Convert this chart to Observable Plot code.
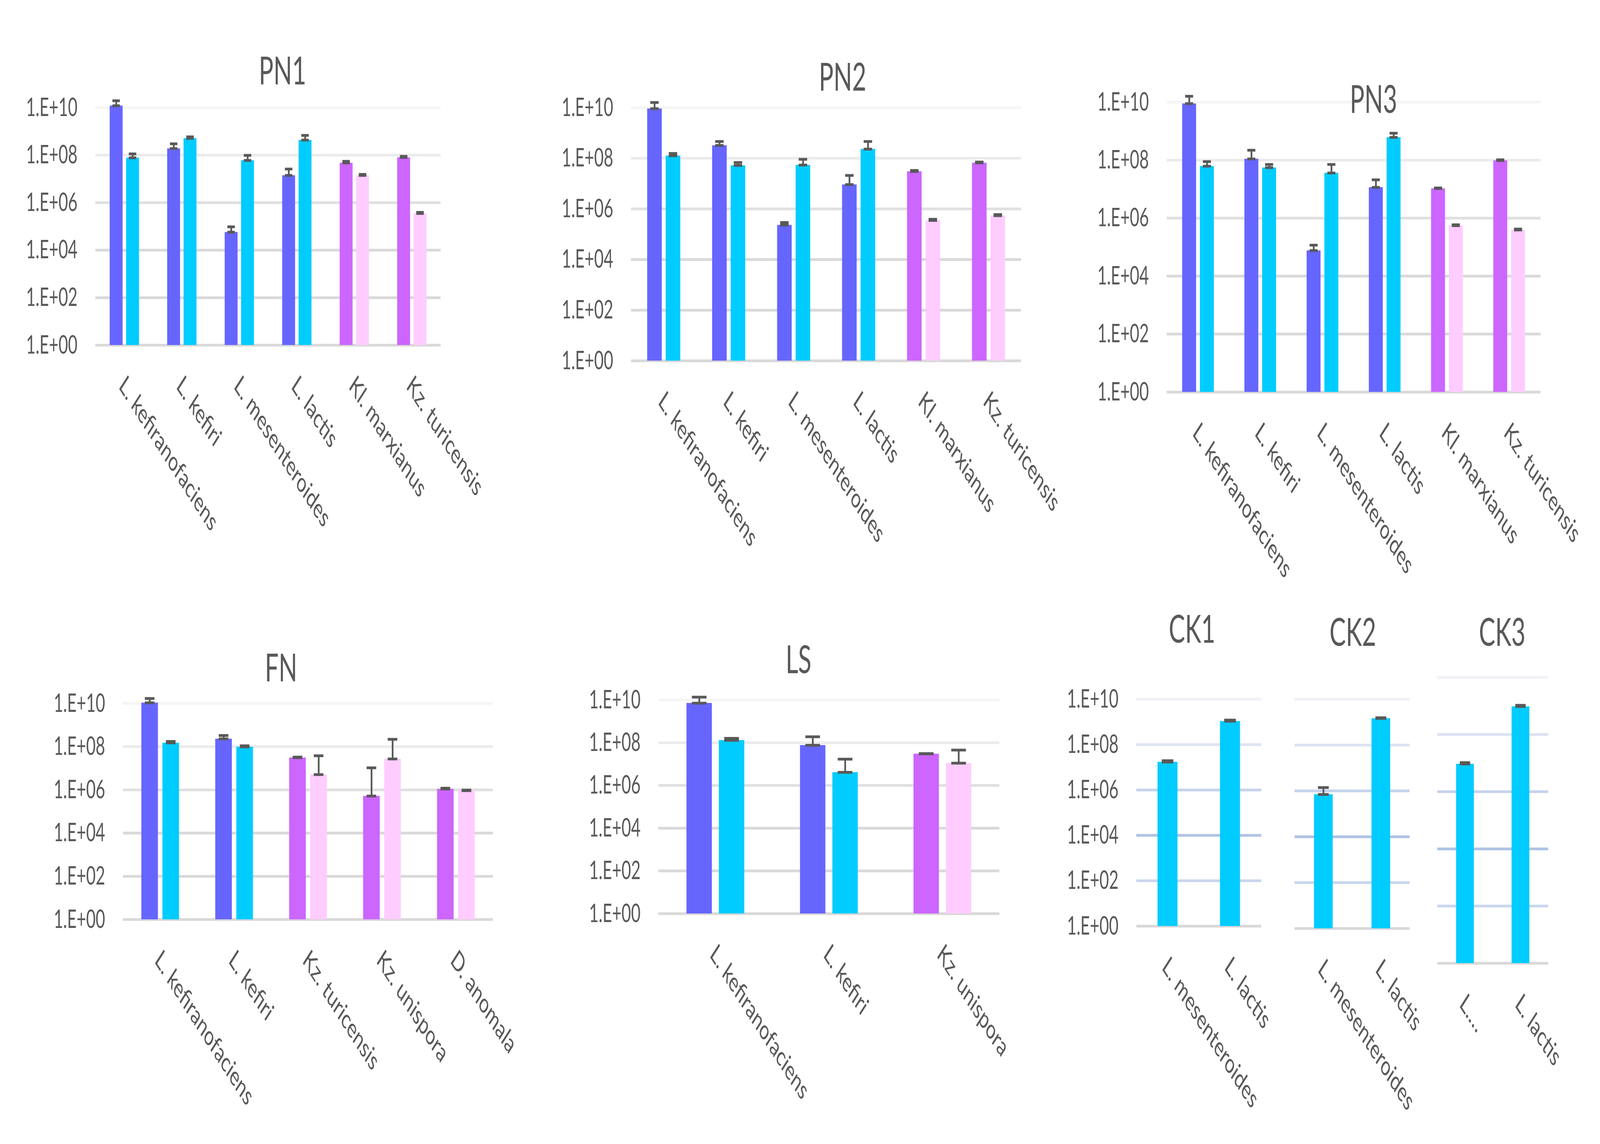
<!DOCTYPE html>
<html>
<head>
<meta charset="utf-8">
<script src="https://cdn.jsdelivr.net/npm/d3@7"></script>
<script src="https://cdn.jsdelivr.net/npm/@observablehq/plot@0.6"></script>
<style>
html, body { margin: 0; padding: 0; background: #ffffff; overflow: hidden; }
#root { position: absolute; left: 0; top: 0; width: 6428px; height: 2928px; overflow: hidden; background: #ffffff;
  font-family: Lato, "Open Sans", sans-serif; transform-origin: 0 0; }
.panel { position: absolute; }
.panel svg { overflow: visible; }
.title { position: absolute; color: #595959; font-size: 98px; line-height: 1; white-space: nowrap;
  transform: translate(-50%, -50%); }
</style>
</head>
<body>
<div id="root"></div>
<script>
// ---------- data ----------
const yTicks = [1, 1e2, 1e4, 1e6, 1e8, 1e10];

const pn1Cats = ["L. kefiranofaciens", "L. kefiri", "L. mesenteroides", "L. lactis", "Kl. marxianus", "Kz. turicensis"];
const pn1A   = [1.2e10, 1.9e8, 5.7e4, 1.4e7, 4.7e7, 8.0e7];
const pn1AHi = [1.95e10, 3.0e8, 9.6e4, 2.6e7, 5.5e7, 8.9e7];
const pn1B   = [7.7e7, 5.1e8, 6.0e7, 4.3e8, 1.4e7, 3.5e5];
const pn1BHi = [1.13e8, 5.9e8, 9.8e7, 6.8e8, 1.55e7, 3.9e5];

const pn2Cats = ["L. kefiranofaciens", "L. kefiri", "L. mesenteroides", "L. lactis", "Kl. marxianus", "Kz. turicensis"];
const pn2A   = [9.1e9, 3.2e8, 2.3e5, 9.1e6, 3.0e7, 6.6e7];
const pn2AHi = [1.6e10, 4.6e8, 2.9e5, 2.1e7, 3.3e7, 7.1e7];
const pn2B   = [1.26e8, 5.2e7, 5.4e7, 2.3e8, 3.5e5, 5.4e5];
const pn2BHi = [1.55e8, 6.8e7, 9.1e7, 4.6e8, 3.9e5, 6.0e5];

const pn3Cats = ["L. kefiranofaciens", "L. kefiri", "L. mesenteroides", "L. lactis", "Kl. marxianus", "Kz. turicensis"];
const pn3A   = [8.9e9, 1.1e8, 7.6e4, 1.15e7, 1.05e7, 9.7e7];
const pn3AHi = [1.6e10, 2.2e8, 1.17e5, 2.1e7, 1.1e7, 1.03e8];
const pn3B   = [6.2e7, 5.5e7, 3.6e7, 6.1e8, 5.5e5, 3.9e5];
const pn3BHi = [8.9e7, 7.1e7, 7.1e7, 8.5e8, 5.9e5, 4.2e5];

const fnCats = ["L. kefiranofaciens", "L. kefiri", "Kz. turicensis", "Kz. unispora", "D. anomala"];
const fnA   = [1.07e10, 2.3e8, 3.1e7, 5.2e5, 1.1e6];
const fnAHi = [1.7e10, 3.3e8, 3.3e7, 1.05e7, 1.2e6];
const fnB   = [1.5e8, 9.8e7, 5.1e6, 2.7e7, 9.2e5];
const fnBHi = [1.75e8, 1.1e8, 3.8e7, 2.2e8, 9.8e5];

const lsCats = ["L. kefiranofaciens", "L. kefiri", "Kz. unispora"];
const lsA   = [7.1e9, 7.6e7, 3.0e7];
const lsAHi = [1.35e10, 1.9e8, 3.1e7];
const lsB   = [1.3e8, 4.1e6, 1.1e7];
const lsBHi = [1.6e8, 1.7e7, 4.5e7];

const ck1Cats = ["L. mesenteroides", "L. lactis"];
const ck1V  = [1.7e7, 1.07e9];
const ck1Hi = [1.95e7, 1.2e9];

const ck2Cats = ["L. mesenteroides", "L. lactis"];
const ck2V  = [7.0e5, 1.45e9];
const ck2Hi = [1.4e6, 1.55e9];

const ck3Cats = ["L.\u2026", "L. lactis"];
const ck3V  = [9.3e6, 9.5e8];
const ck3Hi = [1.04e7, 1.05e9];

// ---------- styles ----------
const FONT = 'Lato, "Open Sans", sans-serif';
const TEXT = "#595959";
const bactA = "#6666FF", bactB = "#00CCFF", yeastA = "#CC66FF", yeastB = "#FFCCFF";
const greyGrid = ["#D9D9D9", "#D9D9D9", "#D9D9D9", "#E0E0E0", "#EBEBEB", "#F5F5F5"];
const blueGrid = ["#D9D9D9", "#C9D6EE", "#AFC3E5", "#C5D3EC", "#DCE3F1", "#F0F2F8"];
const isBact = (c) => c.startsWith("L.");
const fmt = (d) => "1.E+" + String(Math.round(Math.log10(d))).padStart(2, "0");

const root = document.getElementById("root");

function panel({cats, series, frame, box, title, showY = true, grid = greyGrid, barFrac = 0.225, gapFrac = 0.06}) {
  const [L, R, T, B] = frame;
  const [bx0, by0, bx1, by1] = box;
  const n = cats.length;
  const bw = (R - L) / n;
  const bar = barFrac * bw, gap = gapFrac * bw, cap = 0.58 * bar;
  const m = series.length;
  const gridRows = yTicks.map((v, i) => ({v, c: grid[i]}));
  const marks = [Plot.ruleY(gridRows, {y: "v", stroke: "c", strokeWidth: 7})];
  series.forEach((s, si) => {
    const rows = cats.map((g, i) => ({g, v: s.values[i], hi: s.hi[i], c: s.color(g)}));
    const off = m === 1 ? 0 : (si === 0 ? -(bar + gap) / 2 : (bar + gap) / 2);
    const iL = bw / 2 + off - bar / 2, iR = bw - iL - bar;
    const cL = bw / 2 + off - cap / 2, cR = bw - cL - cap;
    marks.push(Plot.barY(rows, {x: "g", y1: 1, y2: "v", fill: "c", insetLeft: iL, insetRight: iR}));
    marks.push(Plot.ruleX(rows, {x: "g", y1: "v", y2: "hi", dx: off, stroke: TEXT, strokeWidth: 7}));
    marks.push(Plot.tickY(rows, {x: "g", y: "hi", stroke: TEXT, strokeWidth: 7, insetLeft: cL, insetRight: cR}));
    marks.push(Plot.tickY(rows, {x: "g", y: "v", stroke: TEXT, strokeWidth: 7, insetLeft: cL, insetRight: cR}));
  });
  if (showY) marks.push(Plot.axisY({ticks: yTicks, tickFormat: fmt, tickSize: 0, tickPadding: 72, fontSize: 66, label: null}));
  marks.push(Plot.axisX({tickRotate: 45, tickSize: 0, tickPadding: 92, dx: -10, fontSize: 69, label: null}));
  const chart = Plot.plot({
    width: bx1 - bx0, height: by1 - by0,
    marginLeft: L - bx0, marginRight: bx1 - R, marginTop: T - by0, marginBottom: by1 - B,
    x: {type: "band", domain: cats, padding: 0},
    y: {type: "log", domain: [1, 1e10], axis: showY ? undefined : null},
    color: {type: "identity"},
    style: {background: "transparent", fontFamily: FONT, color: TEXT, overflow: "visible", maxWidth: "none"},
    marks
  });
  const wrap = document.createElement("div");
  wrap.className = "panel";
  wrap.style.left = bx0 + "px";
  wrap.style.top = by0 + "px";
  wrap.appendChild(chart);
  root.appendChild(wrap);
  const t = document.createElement("div");
  t.className = "title";
  t.textContent = title[2];
  t.style.left = title[0] + "px";
  t.style.top = title[1] + "px";
  root.appendChild(t);
}

const two = (A, AHi, Bv, BHi) => [
  {values: A, hi: AHi, color: (g) => isBact(g) ? bactA : yeastA},
  {values: Bv, hi: BHi, color: (g) => isBact(g) ? bactB : yeastB}
];
const cyanOnly = (v, hi) => [{values: v, hi, color: () => bactB}];

panel({cats: pn1Cats, series: two(pn1A, pn1AHi, pn1B, pn1BHi), frame: [383, 1770, 275, 883], box: [0, 80, 2100, 1500], title: [1135, 178, "PN1"]});
panel({cats: pn2Cats, series: two(pn2A, pn2AHi, pn2B, pn2BHi), frame: [2535, 4102, 275, 923], box: [2150, 80, 4300, 1500], title: [3385, 194, "PN2"]});
panel({cats: pn3Cats, series: two(pn3A, pn3AHi, pn3B, pn3BHi), frame: [4687, 6189, 261, 1003], box: [4300, 80, 6428, 1550], title: [5518, 251, "PN3"]});
panel({cats: fnCats, series: two(fnA, fnAHi, fnB, fnBHi), frame: [494, 1980, 1800, 2353], box: [0, 1560, 2150, 2928], title: [1129, 1706, "FN"]});
panel({cats: lsCats, series: two(lsA, lsAHi, lsB, lsBHi), frame: [2645, 4015, 1791, 2338], box: [2200, 1560, 4200, 2928], title: [3208, 1685, "LS"]});
panel({cats: ck1Cats, series: cyanOnly(ck1V, ck1Hi), frame: [4565, 5067, 1789, 2370], box: [4230, 1560, 5140, 2928], title: [4789, 1607, "CK1"], grid: blueGrid, barFrac: 0.32});
panel({cats: ck2Cats, series: cyanOnly(ck2V, ck2Hi), frame: [5201, 5663, 1789, 2376], box: [5150, 1560, 5710, 2928], title: [5435, 1615, "CK2"], grid: blueGrid, barFrac: 0.325, showY: false});
panel({cats: ck3Cats, series: cyanOnly(ck3V, ck3Hi), frame: [5774, 6220, 1733, 2465], box: [5720, 1560, 6428, 2928], title: [6035, 1615, "CK3"], grid: blueGrid, barFrac: 0.32, showY: false});

// fit the 6428×2928 design into the actual window
function fit() {
  const sx = window.innerWidth / 6428, sy = window.innerHeight / 2928;
  root.style.transform = `scale(${sx}, ${sy})`;
}
fit();
window.addEventListener("resize", fit);
</script>
</body>
</html>
